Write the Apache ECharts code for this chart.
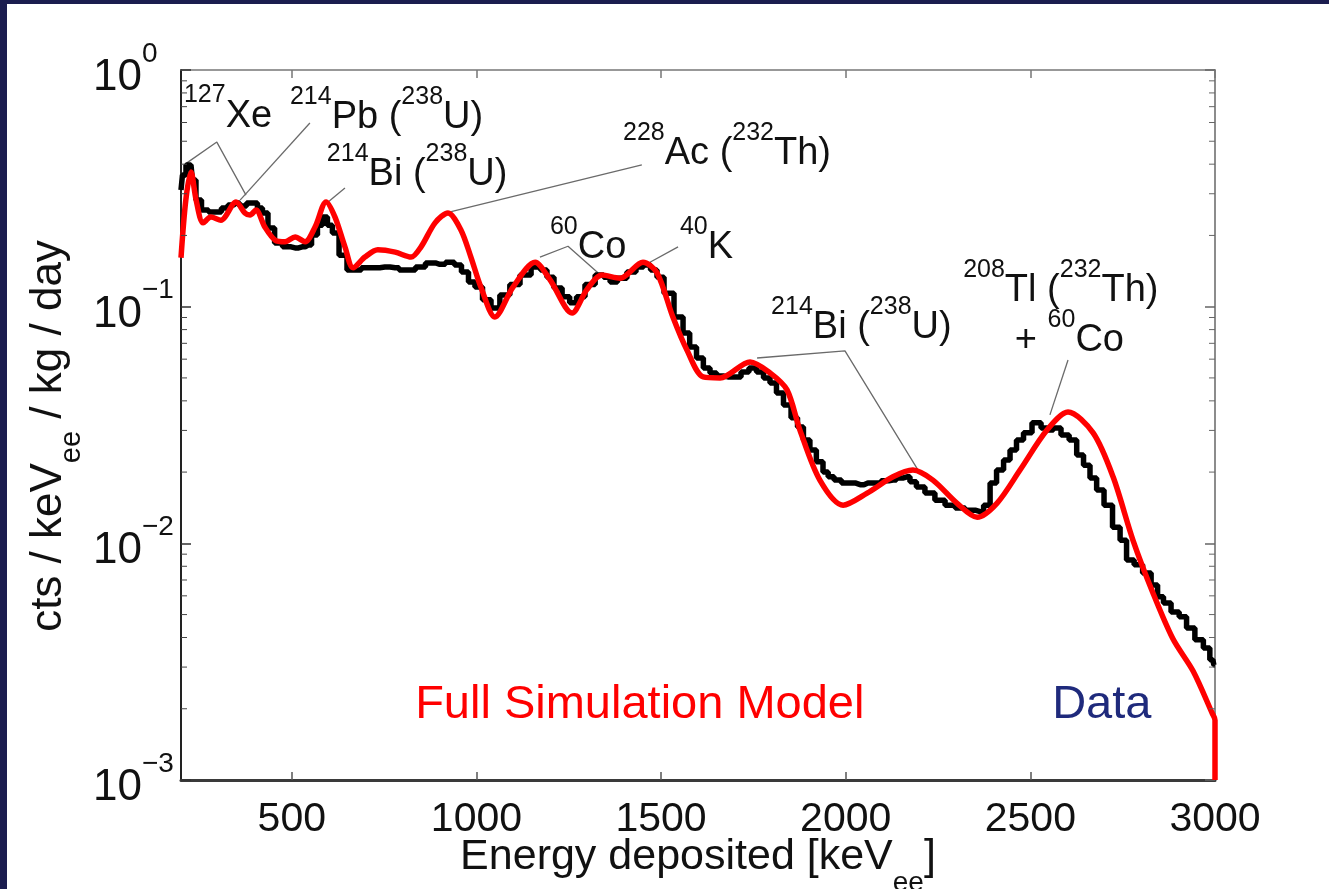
<!DOCTYPE html>
<html><head><meta charset="utf-8">
<script src="https://cdn.jsdelivr.net/npm/echarts@6/dist/echarts.min.js"></script>
<style>
html,body{margin:0;padding:0;background:#1b1d4f;width:1329px;height:889px;overflow:hidden}
#chart{position:absolute;left:7px;top:4px;width:1322px;height:885px;background:#fff}
</style></head><body><div id="chart"></div>
<script>
// ---- data (energy in keVee, rate in cts/keVee/kg/day) ----
const dataEnergy = [200,208,219,227,235,246,265,284,300,319,335,349,368,387,400,414,427,444,463,487,509,528,544,563,576,590,603,617,639,660,679,698,725,752,780,801,823,847,877,901,931,950,969,988,1004,1029,1050,1077,1104,1132,1164,1183,1199,1221,1243,1262,1280,1308,1335,1354,1370,1394,1421,1443,1462,1481,1497,1519,1551,1568,1587,1605,1624,1641,1660,1681,1706,1727,1749,1768,1787,1803,1822,1841,1863,1876,1895,1911,1930,1947,1958,1979,1998,2012,2039,2060,2085,2106,2128,2147,2166,2182,2201,2228,2255,2283,2310,2337,2364,2383,2399,2418,2437,2453,2472,2491,2518,2540,2553,2572,2594,2616,2635,2653,2670,2689,2710,2735,2751,2770,2792,2816,2838,2851,2870,2892,2914,2932,2959,2978,2994,3000];
const dataRate = [0.311,0.360,0.397,0.397,0.343,0.282,0.256,0.251,0.251,0.261,0.269,0.274,0.266,0.274,0.274,0.261,0.249,0.215,0.186,0.179,0.177,0.179,0.182,0.201,0.221,0.239,0.221,0.205,0.165,0.143,0.143,0.146,0.146,0.147,0.146,0.143,0.143,0.147,0.153,0.151,0.154,0.150,0.140,0.127,0.121,0.107,0.0988,0.112,0.124,0.136,0.147,0.143,0.133,0.120,0.110,0.104,0.110,0.124,0.136,0.133,0.127,0.132,0.140,0.147,0.150,0.143,0.133,0.114,0.0904,0.0774,0.0675,0.0607,0.0551,0.0525,0.0509,0.0505,0.0505,0.0530,0.0551,0.0530,0.0500,0.0476,0.0432,0.0384,0.0339,0.0310,0.0273,0.0248,0.0221,0.0200,0.0191,0.0185,0.0180,0.0180,0.0177,0.0180,0.0180,0.0184,0.0185,0.0189,0.0191,0.0182,0.0173,0.0163,0.0152,0.0145,0.0141,0.0138,0.0136,0.0145,0.0180,0.0204,0.0225,0.0248,0.0273,0.0293,0.0323,0.0307,0.0301,0.0307,0.0287,0.0273,0.0236,0.0214,0.0189,0.0168,0.0145,0.0117,0.0103,0.00851,0.00811,0.00750,0.00667,0.00594,0.00560,0.00513,0.00489,0.00439,0.00391,0.00361,0.00322,0.00306];

const modelEnergy = [200,213,227,241,260,281,308,349,373,387,403,427,455,482,509,536,563,593,617,644,666,698,733,780,823,850,888,923,958,985,1012,1050,1099,1159,1199,1259,1299,1340,1389,1451,1489,1532,1570,1614,1660,1741,1795,1841,1876,1930,1993,2058,2128,2182,2236,2301,2356,2410,2472,2545,2602,2670,2724,2778,2832,2886,2941,2992,3000,3000];
const modelRate = [0.161,0.282,0.371,0.282,0.226,0.239,0.232,0.277,0.249,0.244,0.256,0.217,0.191,0.188,0.197,0.188,0.217,0.277,0.239,0.179,0.146,0.162,0.174,0.170,0.162,0.179,0.226,0.249,0.211,0.162,0.121,0.0904,0.121,0.154,0.130,0.0940,0.118,0.136,0.132,0.154,0.139,0.0904,0.0656,0.0505,0.0500,0.0584,0.0525,0.0445,0.0301,0.0185,0.0145,0.0163,0.0191,0.0204,0.0185,0.0148,0.0129,0.0148,0.0204,0.0301,0.0359,0.0293,0.0191,0.0103,0.00617,0.00395,0.00288,0.00192,0.00179,0.001];

// x tick labels, y decades
const xTickValues = [500,1000,1500,2000,2500,3000];
const yDecades = [0.001,0.01,0.1];
const minorMultipliers = [2,3,4,5,6,7,8,9];

// annotations (label anchor: left edge, middle of text)
const annotEnergy = [208,495,595,1397,1199,1551,1798,2318,2458];
const annotRate = [0.684,0.671,0.386,0.473,0.1896,0.1896,0.0871,0.1247,0.0767];
const annotText = ['{s|127}{m|Xe}','{s|214}{m|Pb (}{s|238}{m|U)}','{s|214}{m|Bi (}{s|238}{m|U)}','{s|228}{m|Ac (}{s|232}{m|Th)}','{s|60}{m|Co}','{s|40}{m|K}','{s|214}{m|Bi (}{s|238}{m|U)}','{s|208}{m|Tl (}{s|232}{m|Th)}','{m|+ }{s|60}{m|Co}'];

// leader lines [energy, rate]
const leaderXe = [[216,0.405],[297,0.496],[376,0.296]];
const leaderPb = [[549,0.597],[360,0.282]];
const leaderBi1 = [[644,0.317],[595,0.274]];
const leaderAc = [[1448,0.397],[926,0.251]];
const leaderCo = [[1172,0.162],[1248,0.180],[1329,0.139]];
const leaderK = [[1546,0.179],[1470,0.154]];
const leaderBi2 = [[1760,0.0607],[1998,0.0650],[2196,0.0204]];
const leaderTl = [[2602,0.0595],[2553,0.0349]];

// legend texts
const legendText = ['Full Simulation Model','Data'];
const legendEnergy = [834,2559];
const legendRate = [0.00208,0.00208];
const legendColor = ['#ff0000','#1f2a7c'];

const FONT = '"Liberation Sans", Arial, Helvetica, sans-serif';
const X_MIN = 200, X_MAX = 3000, Y_MIN = 0.001, Y_MAX = 1;

const zip = (a, b) => a.map((v, i) => [v, b[i]]);
const minorTicks = [];
yDecades.forEach(d => minorMultipliers.forEach(m => minorTicks.push([X_MIN, d * m])));

const leaders = [leaderXe, leaderPb, leaderBi1, leaderAc, leaderCo, leaderK, leaderBi2, leaderTl];

const chart = echarts.init(document.getElementById('chart'), null, {renderer: 'canvas'});

const annoRich = {
  m: {fontSize: 38, lineHeight: 52, verticalAlign: 'bottom', color: '#111', fontFamily: FONT},
  s: {fontSize: 25, lineHeight: 25, verticalAlign: 'top', color: '#111', fontFamily: FONT}
};
const legendRich = {};
legendColor.forEach((c, i) => {
  legendRich['c' + i] = {fontSize: 47, lineHeight: 54, color: c, fontFamily: FONT};
});

const series = [];
leaders.forEach(l => series.push({
  type: 'line', data: l, symbol: 'none', silent: true, z: 1,
  lineStyle: {color: '#6a6a6a', width: 1.3}
}));
series.push({
  name: 'Data', type: 'line', data: zip(dataEnergy, dataRate), step: 'middle',
  symbol: 'none', z: 2, lineStyle: {color: '#000', width: 5.5}
});
series.push({
  name: 'Model', type: 'line', data: zip(modelEnergy, modelRate), smooth: 0.3,
  symbol: 'none', z: 3, lineStyle: {color: '#ff0000', width: 5.5}
});
series.push({
  type: 'scatter', symbolSize: 0, silent: true, z: 5,
  itemStyle: {opacity: 1},
  data: annotEnergy.map((e, i) => ({value: [e, annotRate[i]], label: {formatter: annotText[i]}})),
  label: {show: true, position: 'right', distance: 0, align: 'left', verticalAlign: 'middle', opacity: 1, rich: annoRich}
});
series.push({
  type: 'scatter', symbolSize: 0, silent: true, z: 5,
  itemStyle: {opacity: 1},
  data: legendEnergy.map((e, i) => ({value: [e, legendRate[i]], label: {formatter: '{c' + i + '|' + legendText[i] + '}'}})),
  label: {show: true, position: 'right', distance: 0, align: 'left', verticalAlign: 'middle', opacity: 1, rich: legendRich}
});
series.push({
  type: 'custom', silent: true, z: 6, data: minorTicks,
  renderItem: function (params, api) {
    const v = api.value(1);
    const pL = api.coord([X_MIN, v]);
    const pR = api.coord([X_MAX, v]);
    return {type: 'group', children: [
      {type: 'line', shape: {x1: pL[0], y1: pL[1], x2: pL[0] + 6, y2: pL[1]}, style: {stroke: '#444', lineWidth: 1}},
      {type: 'line', shape: {x1: pR[0], y1: pR[1], x2: pR[0] - 6, y2: pR[1]}, style: {stroke: '#666', lineWidth: 1}}
    ]};
  }
});

const yLabelFmt = v => {
  const e = Math.round(Math.log10(v));
  return '{b|10}{s|' + (e === 0 ? '0' : '\u2212' + (-e)) + '}';
};

chart.setOption({
  animation: false,
  backgroundColor: '#ffffff',
  grid: {left: 174, right: 114, top: 66, bottom: 109, containLabel: false, outerBoundsMode: 'none'},
  xAxis: [{
    type: 'value', min: X_MIN, max: X_MAX, position: 'bottom',
    axisLine: {show: true, lineStyle: {color: '#3a3a3a', width: 3}},
    axisTick: {show: true, inside: true, length: 8, customValues: xTickValues, lineStyle: {color: '#555', width: 1.5}},
    axisLabel: {show: true, customValues: xTickValues, formatter: v => String(v), fontSize: 41, color: '#111', margin: 19, fontFamily: FONT},
    splitLine: {show: false},
    name: '{m|Energy deposited [keV}{sub|ee}{m|]}',
    nameLocation: 'middle', nameGap: 56, nameMoveOverlap: false,
    nameTextStyle: {rich: {
      m: {fontSize: 43, lineHeight: 48, verticalAlign: 'top', color: '#111', fontFamily: FONT},
      sub: {fontSize: 28, lineHeight: 28, padding: [33, 0, 0, 0], verticalAlign: 'top', color: '#111', fontFamily: FONT}
    }}
  }, {
    type: 'value', min: X_MIN, max: X_MAX, position: 'top',
    axisLine: {show: true, lineStyle: {color: '#777', width: 1.5}},
    axisTick: {show: true, inside: true, length: 8, customValues: xTickValues, lineStyle: {color: '#777', width: 1.5}},
    axisLabel: {show: false}, splitLine: {show: false}
  }],
  yAxis: [{
    type: 'log', logBase: 10, min: Y_MIN, max: Y_MAX, position: 'left',
    axisLine: {show: true, lineStyle: {color: '#222', width: 2}},
    axisTick: {show: true, inside: true, length: 10, lineStyle: {color: '#333', width: 1.5}},
    axisLabel: {show: true, formatter: yLabelFmt, margin: 88, align: 'left', rich: {
      b: {fontSize: 44, lineHeight: 60, verticalAlign: 'bottom', color: '#111', fontFamily: FONT},
      s: {fontSize: 28, lineHeight: 28, verticalAlign: 'top', color: '#111', fontFamily: FONT}
    }},
    splitLine: {show: false},
    name: '{m|cts / keV}{sub|ee}{m| / kg / day}',
    nameLocation: 'middle', nameGap: 106, nameMoveOverlap: false,
    nameTextStyle: {padding: [0, 22, 0, 0], rich: {
      m: {fontSize: 44, lineHeight: 48, verticalAlign: 'top', color: '#111', fontFamily: FONT},
      sub: {fontSize: 29, lineHeight: 29, padding: [30, 0, 0, 0], verticalAlign: 'top', color: '#111', fontFamily: FONT}
    }}
  }, {
    type: 'log', logBase: 10, min: Y_MIN, max: Y_MAX, position: 'right',
    axisLine: {show: true, lineStyle: {color: '#666', width: 1.5}},
    axisTick: {show: true, inside: true, length: 10, lineStyle: {color: '#666', width: 1.5}},
    axisLabel: {show: false}, splitLine: {show: false}
  }],
  series: series
});
</script></body></html>
